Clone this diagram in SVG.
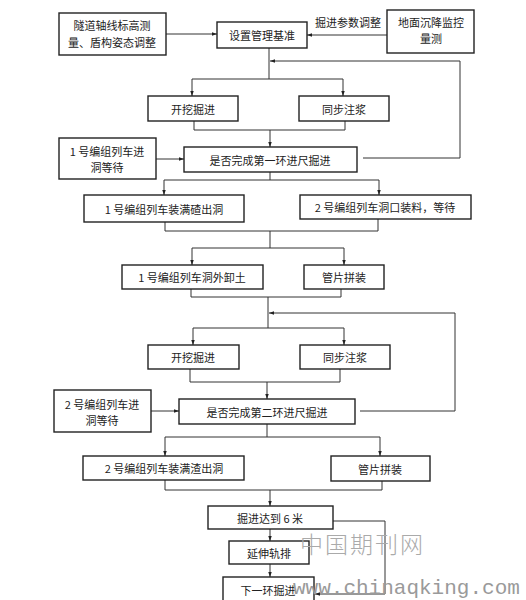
<svg xmlns="http://www.w3.org/2000/svg" width="526" height="600" viewBox="0 0 526 600">
<defs>
<marker id="a" viewBox="0 0 10 10" refX="10" refY="5" markerWidth="5" markerHeight="5" orient="auto"><path d="M0,1.5 L10,5 L0,8.5 z" fill="#222"/></marker>
<style>
rect{fill:#fff;stroke:#222;stroke-width:1.4}
text{font-family:"Noto Sans CJK SC","Liberation Sans",sans-serif;font-size:11px;fill:#222;text-anchor:middle;dominant-baseline:central}
.c path{fill:none;stroke:#333;stroke-width:1}
.ar{marker-end:url(#a)}
.wm{font-family:"Noto Sans CJK SC",serif;font-size:23px;fill:#aaa;font-weight:300;letter-spacing:2px;text-anchor:start}
.wm2{font-family:"Liberation Mono",monospace;font-size:21px;fill:#9a9a9a;text-anchor:start;dominant-baseline:alphabetic}
</style>
</defs>
<rect x="0" y="0" width="526" height="600" style="fill:#fff;stroke:none"/>
<g class="c" id="connectors">
<path class="ar" d="M166,34 H217"/>
<path class="ar" d="M387,35 H307"/>
<path d="M269,48 V79"/>
<path class="ar" d="M269,79 H192 V96"/>
<path class="ar" d="M269,79 H343 V96"/>
<path class="ar" d="M363,158 H460 V61 H270"/>
<path d="M194,121 V130 H345 V121"/>
<path class="ar" d="M270,130 V147"/>
<path class="ar" d="M156,159 H184"/>
<path d="M270,172 V180"/>
<path class="ar" d="M270,180 H164 V195"/>
<path class="ar" d="M270,180 H379 V195"/>
<path d="M165,222 V231 H378 V219"/>
<path d="M270,231 V248"/>
<path class="ar" d="M270,248 H192 V265"/>
<path class="ar" d="M270,248 H344 V265"/>
<path d="M191,289 V297 H341 V289"/>
<path d="M268,297 V328"/>
<path class="ar" d="M268,328 H193 V345"/>
<path class="ar" d="M268,328 H344 V345"/>
<path class="ar" d="M360,411 H455 V313 H269"/>
<path d="M190,369 V382 H340 V369"/>
<path class="ar" d="M267,382 V399"/>
<path class="ar" d="M151,411 H179"/>
<path d="M267,424 V437"/>
<path class="ar" d="M267,437 H165 V456"/>
<path class="ar" d="M267,437 H380 V456"/>
<path d="M165,480 V490 H382 V481"/>
<path class="ar" d="M270,490 V506"/>
<path class="ar" d="M270,529 V541"/>
<path class="ar" d="M270,564 V577"/>
<path class="ar" d="M333,521 H385 V594 H315"/>
</g>
<g id="n1"><rect x="59" y="13" width="107" height="42"/><text x="112" y="25">隧道轴线标高测</text><text x="112" y="42">量、盾构姿态调整</text></g>
<g id="n2"><rect x="217" y="22" width="90" height="26"/><text x="262" y="35">设置管理基准</text></g>
<g id="n3"><rect x="387" y="10" width="87" height="43"/><text x="431" y="22">地面沉降监控</text><text x="431" y="38">量测</text></g>
<g id="lbl"><text x="348" y="22">掘进参数调整</text></g>
<g id="n4"><rect x="148" y="96" width="90" height="25"/><text x="193" y="108.5">开挖掘进</text></g>
<g id="n5"><rect x="299" y="96" width="90" height="25"/><text x="344" y="108.5">同步注浆</text></g>
<g id="n6"><rect x="59" y="138" width="97" height="41"/><text x="107" y="150.5">1 号编组列车进</text><text x="107" y="166.5">洞等待</text></g>
<g id="n7"><rect x="184" y="147" width="173" height="25"/><text x="270" y="159.5">是否完成第一环进尺掘进</text></g>
<g id="n8"><rect x="84" y="195" width="160" height="27"/><text x="164" y="208.5">1 号编组列车装满碴出洞</text></g>
<g id="n9"><rect x="300" y="195" width="171" height="24"/><text x="385" y="207">2 号编组列车洞口装料，等待</text></g>
<g id="n10"><rect x="122" y="265" width="141" height="24"/><text x="192" y="277">1 号编组列车洞外卸土</text></g>
<g id="n11"><rect x="304" y="265" width="80" height="24"/><text x="344" y="277">管片拼装</text></g>
<g id="n12"><rect x="148" y="345" width="91" height="24"/><text x="193" y="357">开挖掘进</text></g>
<g id="n13"><rect x="300" y="345" width="90" height="24"/><text x="345" y="357">同步注浆</text></g>
<g id="n14"><rect x="54" y="390" width="97" height="42"/><text x="102" y="403.5">2 号编组列车进</text><text x="102" y="419.5">洞等待</text></g>
<g id="n15"><rect x="179" y="399" width="176" height="25"/><text x="267" y="411.5">是否完成第二环进尺掘进</text></g>
<g id="n16"><rect x="83" y="456" width="161" height="24"/><text x="164" y="468">2 号编组列车装满渣出洞</text></g>
<g id="n17"><rect x="331" y="456" width="99" height="25"/><text x="380" y="468.5">管片拼装</text></g>
<g id="n18"><rect x="208" y="506" width="125" height="23"/><text x="270" y="517.5">掘进达到 6 米</text></g>
<g id="n19"><rect x="229" y="541" width="80" height="23"/><text x="269" y="552.5">延伸轨排</text></g>
<g id="n20"><rect x="223" y="577" width="91" height="30"/><text x="268" y="589.5">下一环掘进</text></g>
<g id="watermark"><text class="wm" x="300" y="543">中国期刊网</text><text class="wm2" x="293" y="594">www.chinaqking.com</text></g>
</svg>
